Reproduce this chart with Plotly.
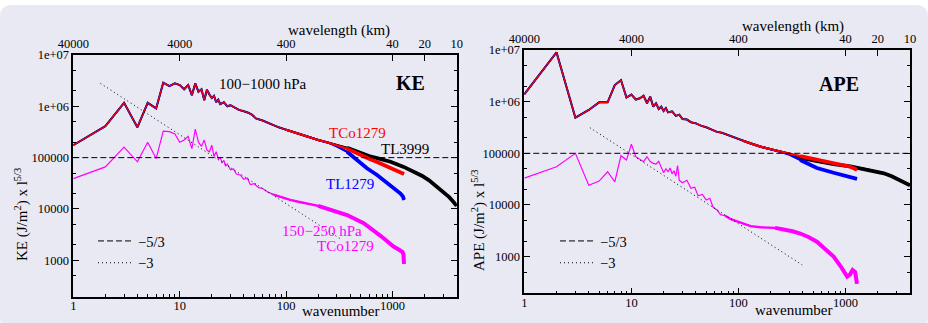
import numpy as np
import plotly.graph_objects as go

W, H = 928, 323

# ---------------- KE, 100-1000 hPa (shared large-scale part) ----------------
ke_common_n = [1, 2, 3, 4, 5, 6, 7, 8, 9, 10, 11, 12, 13, 14, 15, 16, 17, 18, 19, 20,
               21, 22, 23, 24, 26, 28, 30, 33, 36, 40, 44, 48, 52, 60, 70, 85, 100,
               130, 160, 200, 250]
ke_common = [1.75e5, 4.1e5, 1.17e6, 3.9e5, 1.17e6, 9.1e5, 2.88e6, 2.48e6, 2.8e6, 2.6e6,
             2.15e6, 2.6e6, 1.65e6, 2.8e6, 1.92e6, 2.15e6, 1.32e6, 2.1e6, 1.7e6, 1.45e6,
             1.6e6, 1.2e6, 1.35e6, 1.1e6, 1.2e6, 1.0e6, 1.05e6, 9.5e5, 8.5e5, 8.0e5,
             7.5e5, 6.8e5, 5.8e5, 5.3e5, 4.6e5, 3.9e5, 3.5e5, 2.9e5, 2.55e5, 2.2e5, 1.95e5]

# small-scale tails of each resolution
ke_tco1279_n = [300, 373, 463, 600, 714, 820, 955, 1100, 1279]
ke_tco1279 = [1.75e5, 1.5e5, 1.2e5, 9.5e4, 8.2e4, 7.2e4, 6.3e4, 5.6e4, 4.8e4]
ke_tl1279_n = [300, 373, 463, 574, 714, 822, 955, 1100, 1186, 1250, 1279]
ke_tl1279 = [1.65e5, 1.3e5, 9.0e4, 6.2e4, 4.6e4, 3.7e4, 2.9e4, 2.3e4, 2.0e4, 1.75e4, 1.5e4]
ke_tl3999_n = [300, 373, 463, 600, 714, 955, 1271, 1600, 1900, 2200, 2500, 2800, 3100,
               3400, 3700, 4000]
ke_tl3999 = [1.75e5, 1.55e5, 1.3e5, 1.07e5, 9.8e4, 8.3e4, 6.6e4, 5.3e4, 4.4e4, 3.6e4,
             2.9e4, 2.4e4, 2.0e4, 1.7e4, 1.4e4, 1.15e4]

# KE, 150-250 hPa, TCo1279
ke_ut_n = [1, 2, 3, 4, 5, 6, 7, 8, 9, 10, 11, 12, 13, 14, 15, 16, 17, 18, 19,
           20, 21, 22, 23, 24, 25, 26, 27, 28, 30, 32, 34, 37, 40, 43, 46, 50, 55, 60,
           68, 76, 88, 109, 130, 160, 200, 260, 373, 535, 650, 770, 900, 1020, 1150,
           1240, 1265, 1279]
ke_ut = [3.9e4, 6.6e4, 1.6e5, 8.3e4, 2.0e5, 9.6e4, 3.3e5, 3.2e5, 2.9e5, 2.0e5, 2.2e5,
         2.6e5, 1.5e5, 3.6e5, 2.0e5, 1.66e5, 2.2e5, 1.4e5, 1.3e5,
         1.75e5, 1.05e5, 1.3e5, 9.5e4, 1.0e5, 8.0e4, 8.8e4, 6.8e4, 7.5e4,
         5.8e4, 6.0e4, 4.8e4, 4.6e4, 3.8e4, 4.0e4, 3.0e4, 3.1e4, 2.6e4, 2.5e4,
         2.1e4, 1.9e4, 1.72e4, 1.5e4, 1.38e4, 1.26e4, 1.15e4, 9.8e3, 7.6e3, 5.3e3,
         4.0e3, 3.0e3, 2.3e3, 1.85e3, 1.6e3, 1.45e3, 1.3e3, 8.5e2]

# ---------------- APE, shared large-scale part ----------------
ape_common_n = [1, 2, 3, 4, 5, 6, 7, 8, 9, 10, 11, 12, 13, 14, 15, 16, 17, 18,
                19, 20, 21, 22, 24, 26, 28, 30, 33, 36, 40, 45, 50, 55, 63, 70, 80, 90,
                110, 130, 160, 200, 250]
ape_common = [1.39e6, 9.0e6, 4.9e5, 6.9e5, 9.7e5, 9.7e5, 2.1e6, 2.6e6, 1.2e6, 1.37e6,
              1.1e6, 1.16e6, 1.3e6, 9.3e5, 1.25e6, 8.0e5, 9.3e5, 7.2e5,
              8.0e5, 6.6e5, 7.5e5, 6.2e5, 6.5e5, 5.3e5, 5.6e5, 4.6e5, 4.5e5, 4.0e5,
              3.8e5, 3.4e5, 3.2e5, 2.95e5, 2.6e5, 2.5e5, 2.25e5, 2.0e5, 1.75e5, 1.55e5,
              1.35e5, 1.2e5, 1.07e5]

ape_tco1279_n = [300, 377, 540, 774, 1000, 1107, 1279]
ape_tco1279 = [1.0e5, 8.8e4, 7.5e4, 6.4e4, 5.8e4, 5.5e4, 4.8e4]
ape_tl1279_n = [300, 377, 540, 774, 1107, 1279]
ape_tl1279 = [9.4e4, 7.4e4, 5.2e4, 4.2e4, 3.5e4, 3.2e4]
ape_tl3999_n = [300, 377, 540, 774, 1107, 1279, 1570, 1900, 2278, 2700, 3256, 3600, 4000]
ape_tl3999 = [9.8e4, 8.2e4, 7.0e4, 6.2e4, 5.6e4, 5.3e4, 4.9e4, 4.5e4, 4.1e4, 3.6e4,
              3.0e4, 2.7e4, 2.4e4]

ape_ut_n = [1, 2, 3, 4, 5, 6, 7, 8, 9, 10, 11, 12, 13, 14, 15, 16, 17,
            18, 19, 20, 21, 22, 23, 24, 25, 26, 27, 28,
            30, 33, 36, 39, 42, 46, 50, 54, 58, 63,
            68, 75, 85, 100, 115, 130, 160, 184, 220, 263,
            320, 377, 450, 540, 650, 774, 900, 1036, 1100, 1163, 1230, 1279]
ape_ut = [3.3e4, 5.5e4, 1.0e5, 2.4e4, 2.9e4, 4.4e4, 2.8e4, 9.0e4, 7.4e4, 1.5e5, 8.6e4,
          7.8e4, 6.9e4, 8.6e4, 6.9e4, 6.4e4, 6.2e4,
          7.0e4, 5.2e4, 4.2e4, 5.0e4, 4.4e4, 5.2e4, 4.0e4, 4.6e4, 3.6e4, 5.8e4, 3.0e4,
          2.7e4, 3.0e4, 2.1e4, 2.2e4, 1.5e4, 1.6e4, 1.25e4, 1.35e4, 9.0e3, 8.0e3,
          6.5e3, 6.2e3, 5.3e3, 4.7e3, 4.3e3, 3.9e3, 3.7e3, 3.7e3, 3.6e3, 3.4e3,
          3.1e3, 2.8e3, 2.4e3, 1.95e3, 1.4e3, 1.0e3, 6.5e2, 4.1e2, 4.5e2, 5.5e2, 5.0e2, 3.0e2]

# reference slopes (compensated by l^5/3): -5/3 is flat, -3 is l^-4/3
flat_n = [1, 4000]
flat_e = [1e5, 1e5]
ke_slope3_n = [1.8, 320]
ke_slope3 = [2.8e6, 2.65e3]
ape_slope3_n = [4.1, 394]
ape_slope3 = [3.13e5, 6.9e2]

# axis ticks
n_major = [1, 10, 100, 1000]
n_major_text = ["1", "10", "100", "1000"]
n_minor = [2, 3, 4, 5, 6, 7, 8, 9, 20, 30, 40, 50, 60, 70, 80, 90,
           200, 300, 400, 500, 600, 700, 800, 900, 2000, 3000, 4000]
wl_n = [1, 10, 100, 1000, 2000, 4000]
wl_text = ["40000", "4000", "400", "40", "20", "10"]
e_major = [1e3, 1e4, 1e5, 1e6, 1e7]
e_major_text = ["1000", "10000", "100000", "1e+06", "1e+07"]
e_minor = [5e2, 2e3, 5e3, 2e4, 5e4, 2e5, 5e5, 2e6, 5e6]

FONT = "'Liberation Serif', 'Times New Roman', Times, serif"
RED, BLUE, BLACK, MAGENTA = "#ff0000", "#0000ff", "#000000", "#ff00ff"


def px(x, y):
    return x / W, 1 - y / H


fig = go.Figure()

# spectra get noisier (visually thicker) toward small scales
TIERS = [(0, 0.0), (100, 2.2), (350, 3.8)]


def add_series(n, e, color, xa, ya, thin, tiers=TIERS):
    n = np.asarray(n, dtype=float)
    e = np.asarray(e, dtype=float)
    for n_from, width in tiers:
        m = n >= n_from
        fig.add_trace(go.Scatter(x=n[m], y=e[m], mode="lines", xaxis=xa, yaxis=ya,
                                 line=dict(color=color, width=width or thin),
                                 showlegend=False, hoverinfo="skip"))


def panel(common_n, common, tails, ut_n, ut, s3_n, s3, xa, xtop, ya, legend):
    for (tn, te, color, w) in tails:
        add_series(list(common_n) + list(tn), list(common) + list(te), color, xa, ya, w)
    add_series(ut_n, ut, MAGENTA, xa, ya, 1.2, tiers=[(0, 0.0), (70, 2.4), (200, 4.0)])
    fig.add_trace(go.Scatter(x=flat_n, y=flat_e, mode="lines", xaxis=xtop, yaxis=ya,
                             name="\u22125/3", legend=legend,
                             line=dict(color="black", width=1, dash="6px,3px")))
    fig.add_trace(go.Scatter(x=s3_n, y=s3, mode="lines", xaxis=xa, yaxis=ya,
                             name="\u22123", legend=legend,
                             line=dict(color="black", width=1, dash="1px,3px")))


panel(ke_common_n, ke_common,
      [(ke_tl3999_n, ke_tl3999, BLACK, 2.0),
       (ke_tl1279_n, ke_tl1279, BLUE, 1.6),
       (ke_tco1279_n, ke_tco1279, RED, 1.2)],
      ke_ut_n, ke_ut, ke_slope3_n, ke_slope3, "x", "x2", "y", "legend")
panel(ape_common_n, ape_common,
      [(ape_tl3999_n, ape_tl3999, BLACK, 2.0),
       (ape_tl1279_n, ape_tl1279, BLUE, 1.6),
       (ape_tco1279_n, ape_tco1279, RED, 1.2)],
      ape_ut_n, ape_ut, ape_slope3_n, ape_slope3, "x3", "x4", "y2", "legend2")

XRANGE = [0, np.log10(4000)]
YRANGE = [np.log10(195), 7]
tickfont = dict(family=FONT, size=12.5, color="black")


def bottom_axis(x0, x1, anchor):
    return dict(domain=[x0 / W, x1 / W], anchor=anchor, type="log", range=XRANGE,
                automargin=False, showgrid=False, zeroline=False, showline=True,
                linecolor="black", linewidth=1.5, mirror=True, ticks="inside",
                ticklen=6, tickwidth=1, tickcolor="black", tickvals=n_major,
                ticktext=n_major_text, tickfont=tickfont, ticklabelstandoff=-3,
                minor=dict(ticks="inside", ticklen=3, tickwidth=1, tickcolor="black",
                           tickvals=n_minor, showgrid=False))


def top_axis(over, anchor):
    return dict(overlaying=over, anchor=anchor, side="top", type="log", range=XRANGE,
                automargin=False, showgrid=False, zeroline=False, showline=False,
                ticks="inside", ticklen=6, tickwidth=1, tickcolor="black",
                tickvals=wl_n, ticktext=wl_text, tickfont=tickfont,
                ticklabelstandoff=4)


def y_axis(ytop, ybot, anchor):
    return dict(domain=[1 - ybot / H, 1 - ytop / H], anchor=anchor, type="log",
                range=YRANGE, automargin=False, showgrid=False, zeroline=False,
                showline=True, linecolor="black", linewidth=1.5, mirror="ticks",
                ticks="inside", ticklen=6, tickwidth=1, tickcolor="black",
                tickvals=e_major, ticktext=e_major_text, tickfont=tickfont,
                minor=dict(ticks="inside", ticklen=3, tickwidth=1, tickcolor="black",
                           tickvals=e_minor, showgrid=False))


# rounded card behind both panels
r = 12
cx0, cx1, cy0, cy1 = 0, W, 5, 330


def P(x, y):
    a, b = px(x, y)
    return f"{a:.5f},{b:.5f}"


card = (f"M {P(cx0 + r, cy0)} L {P(cx1 - r, cy0)} Q {P(cx1, cy0)} {P(cx1, cy0 + r)} "
        f"L {P(cx1, cy1 - r)} Q {P(cx1, cy1)} {P(cx1 - r, cy1)} "
        f"L {P(cx0 + r, cy1)} Q {P(cx0, cy1)} {P(cx0, cy1 - r)} "
        f"L {P(cx0, cy0 + r)} Q {P(cx0, cy0)} {P(cx0 + r, cy0)} Z")


def note(text, x, y, size=15, color="black", angle=0):
    a, b = px(x, y)
    return dict(text=text, x=a, y=b, xref="paper", yref="paper", showarrow=False,
                xanchor="center", yanchor="middle", textangle=angle,
                font=dict(family=FONT, size=size, color=color))


annotations = [
    note("wavelength (km)", 339, 30.5),
    note("wavenumber", 340, 310.5),
    note("KE (J/m<sup>2</sup>) x l<sup>5/3</sup>", 21, 215, angle=-90),
    note("100\u22121000 hPa", 263, 84),
    note("<b>KE</b>", 410, 83, size=20),
    note("TCo1279", 357.5, 133, color=RED),
    note("TL3999", 405, 149),
    note("TL1279", 350, 184, color=BLUE),
    note("150\u2212250 hPa", 322, 231, color=MAGENTA),
    note("TCo1279", 345, 246, color=MAGENTA),
    note("wavelength (km)", 793, 26.5),
    note("wavenumber", 793, 310),
    note("APE (J/m<sup>2</sup>) x l<sup>5/3</sup>", 478, 220, angle=-90),
    note("<b>APE</b>", 839, 84, size=20),
]

legend_style = dict(xanchor="left", yanchor="top", bgcolor="rgba(0,0,0,0)",
                    borderwidth=0, font=dict(family=FONT, size=14.5, color="black"),
                    itemwidth=35, tracegroupgap=0)

fig.update_layout(
    width=W, height=H, margin=dict(l=0, r=0, t=0, b=0, pad=0, autoexpand=False),
    paper_bgcolor="white", plot_bgcolor="rgba(0,0,0,0)",
    font=dict(family=FONT, size=15, color="black"),
    xaxis=bottom_axis(73.3, 456.7, "y"),
    xaxis2=top_axis("x", "y"),
    yaxis=y_axis(55, 296.7, "x"),
    xaxis3=bottom_axis(524.3, 910, "y2"),
    xaxis4=top_axis("x3", "y2"),
    yaxis2=y_axis(50, 293.3, "x3"),
    legend=dict(x=93 / W, y=1 - 225 / H, **legend_style),
    legend2=dict(x=555 / W, y=1 - 225 / H, **legend_style),
    shapes=[dict(type="path", path=card, xref="paper", yref="paper", layer="below",
                 fillcolor="#e9e9f4", line=dict(width=0))],
    annotations=annotations,
)

fig.write_html("out.html", config={"displayModeBar": False})
